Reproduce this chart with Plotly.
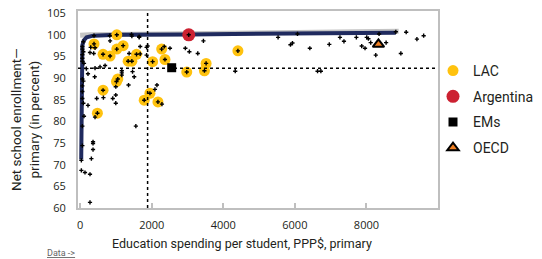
import plotly.graph_objects as go

# ---- data ----
lac_x = [1024, 388, 640, 836, 1024, 1201, 1576, 1341, 1445, 2025, 2278, 2370,
         1015, 1052, 640, 482, 1790, 1950, 2174, 2979, 3520, 3473, 4409]
lac_y = [100.0, 97.9, 95.5, 95.1, 96.7, 97.5, 95.5, 93.9, 93.9, 93.8, 96.7, 94.3,
         89.2, 89.8, 87.2, 81.9, 84.9, 86.5, 84.5, 91.4, 93.4, 91.7, 96.3]

arg_x = [3035]
arg_y = [100.0]

ems_x = [2558]
ems_y = [92.4]

oecd_x = [8336]
oecd_y = [97.8]

other_x = [388, 827, 1436, 1445, 1650, 1650, 836, 90, 62, 62, 90, 295, 416, 275, 379,
           1369, 1678, 1678, 1884, 1857, 1857, 2351, 2510, 2940, 3052, 3445, 3287, 4334,
           62, 62, 62, 107, 174, 416, 556, 697, 219, 407, 62, 90, 62, 62, 62, 90, 463,
           650, 219, 912, 996, 1164, 1164, 1164, 1464, 996, 996, 1352, 1510, 1557, 2146,
           2090, 2286, 107, 416, 62, 62, 360, 360, 360, 314, 34, 34, 135, 275, 275,
           5531, 6073, 5877, 5933, 6418, 6634, 6727, 6962, 7260, 7372, 7719, 8008, 8055,
           7868, 7961, 8120, 8261, 8353, 8550, 8822, 9111, 8962, 9411, 9599]
other_y = [99.8, 99.8, 100.1, 99.7, 99.6, 99.4, 98.6, 98.4, 97.3, 96.7, 96.1, 97.1, 97.0, 95.9, 95.7,
           95.7, 95.6, 97.3, 97.4, 97.1, 95.3, 97.3, 96.9, 96.9, 96.1, 98.6, 95.7, 91.6,
           95.4, 94.6, 93.9, 93.4, 92.2, 92.3, 92.6, 92.9, 91.0, 90.3, 89.8, 89.3, 88.2, 86.9, 85.3, 84.2, 85.3,
           85.5, 83.7, 85.3, 84.2, 91.7, 91.2, 90.7, 91.5, 88.0, 86.1, 88.4, 90.3, 78.9, 88.4,
           87.4, 84.0, 81.2, 81.0, 78.9, 74.4, 75.3, 74.9, 73.5, 71.4, 71.0, 68.7, 68.2, 67.8, 61.3,
           99.4, 100.2, 97.7, 98.1, 96.9, 91.6, 91.6, 97.8, 99.4, 98.5, 99.4, 99.4, 99.1,
           97.4, 96.9, 98.2, 95.3, 100.2, 98.2, 100.7, 100.6, 95.7, 99.0, 99.8]

frontier_x = [30, 45, 62, 100, 180, 370, 1024, 3035, 6073, 8822]
frontier_y = [71.2, 95.0, 97.6, 98.7, 99.4, 99.8, 100.0, 100.1, 100.3, 100.5]

gray_x = [0, 250, 8900]
gray_y = [99.9, 100.0, 100.8]

median_spending = 1885
median_enrollment = 92.3

x_ticks = [0, 2000, 4000, 6000, 8000]
y_ticks = [60, 65, 70, 75, 80, 85, 90, 95, 100, 105]

all_x = lac_x + arg_x + other_x
all_y = lac_y + arg_y + other_y

NARROW = "Roboto, Liberation Sans, sans-serif"
TXT = "#231f20"

fig = go.Figure()
fig.add_trace(go.Scatter(x=gray_x, y=gray_y, mode="lines", line=dict(color="#c4c4c4", width=5),
                         showlegend=False, hoverinfo="skip"))
fig.add_trace(go.Scatter(x=frontier_x, y=frontier_y, mode="lines", line=dict(color="#1f2a5e", width=4),
                         showlegend=False, hoverinfo="skip"))
fig.add_trace(go.Scatter(x=lac_x, y=lac_y, mode="markers", name="LAC", legendgroup="a",
                         marker=dict(color="#ffc20e", size=11)))
fig.add_trace(go.Scatter(x=arg_x, y=arg_y, mode="markers", name="Argentina", legendgroup="b",
                         marker=dict(color="#cc2131", size=13)))
fig.add_trace(go.Scatter(x=all_x, y=all_y, mode="markers", showlegend=False,
                         marker=dict(color="black", size=3.5, symbol="cross")))
fig.add_trace(go.Scatter(x=ems_x, y=ems_y, mode="markers", name="EMs", legendgroup="c",
                         marker=dict(color="black", size=9, symbol="square")))
fig.add_trace(go.Scatter(x=oecd_x, y=oecd_y, mode="markers", name="OECD", legendgroup="d",
                         marker=dict(color="#f07f22", size=10, symbol="triangle-up",
                                     line=dict(color="black", width=2))))

fig.add_shape(type="line", xref="x", yref="paper", x0=median_spending, x1=median_spending, y0=0, y1=1,
              line=dict(color="black", width=1.5, dash="dot"))
fig.add_shape(type="line", xref="paper", yref="y", x0=0, x1=1, y0=median_enrollment, y1=median_enrollment,
              line=dict(color="black", width=1.5, dash="dot"))

fig.update_xaxes(range=[-60, 10000], tickvals=x_ticks, showgrid=False, zeroline=False,
                 showline=True, linecolor="#bfbfbf", linewidth=2, mirror=True,
                 ticks="inside", ticklen=5, tickcolor="#bfbfbf", tickwidth=1.5,
                 tickfont=dict(family="Open Sans", size=11, color=TXT), ticklabelstandoff=6)
fig.update_yaxes(range=[60, 105.5], tickvals=y_ticks, showgrid=False, zeroline=False,
                 showline=True, linecolor="#bfbfbf", linewidth=2, mirror=True,
                 tickfont=dict(family="Open Sans", size=11, color=TXT), ticklabelstandoff=8)

fig.add_annotation(text="Net school enrollment—<br>primary (in percent)", xref="paper", yref="paper",
                   x=(25 - 78) / 360, y=(208 - 120) / 197, textangle=-90, showarrow=False,
                   font=dict(family=NARROW, size=13.5, color=TXT), xanchor="center", yanchor="middle")
fig.add_annotation(text="Education spending per student, PPP$, primary", xref="paper", yref="paper",
                   x=(242 - 78) / 360, y=(208 - 243) / 197, showarrow=False,
                   font=dict(family=NARROW, size=12.5, color=TXT), xanchor="center", yanchor="middle")
fig.add_annotation(text="<u>Data -></u>", xref="paper", yref="paper",
                   x=(45 - 78) / 360, y=(208 - 253) / 197, showarrow=False,
                   font=dict(family=NARROW, size=9, color="#666666"), xanchor="left", yanchor="middle")

fig.update_layout(width=542, height=259, margin=dict(l=78, r=104, t=11, b=51, autoexpand=False),
                  plot_bgcolor="white", paper_bgcolor="white",
                  legend=dict(x=(433 - 78) / 360, y=(208 - 55) / 197, xanchor="left", yanchor="top",
                              font=dict(family=NARROW, size=14, color=TXT), bgcolor="rgba(0,0,0,0)",
                              tracegroupgap=4.5, itemsizing="trace"))

fig.write_html("out.html", config={"displayModeBar": False},
               post_script="document.body.style.margin='0';")
